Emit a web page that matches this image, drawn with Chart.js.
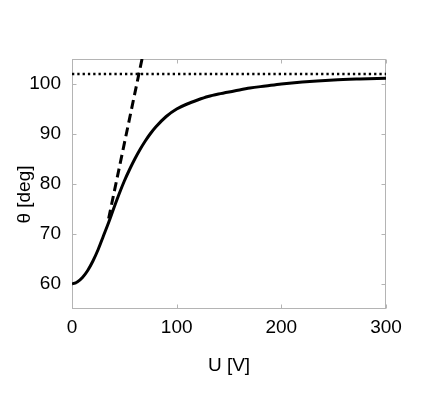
<!DOCTYPE html>
<html>
<head>
<meta charset="utf-8">
<script src="https://cdn.jsdelivr.net/npm/chart.js@4/dist/chart.umd.min.js"></script>
<style>
  html, body { margin: 0; padding: 0; background: #fff; }
  #wrap { width: 436px; height: 394px; }
</style>
</head>
<body>
<div id="wrap"><canvas id="c" width="436" height="394"></canvas></div>
<script>
// Data
const voltage = [0, 5, 10, 15, 20, 25, 30, 35, 40, 45, 50, 55, 60, 65, 70, 75, 80, 90, 100, 110, 120, 130, 140, 155, 170, 185, 200, 220, 250, 275, 300];
const theta   = [60, 60.4, 61.3, 62.7, 64.6, 66.9, 69.6, 72.3, 75.2, 78.0, 80.6, 82.9, 85.0, 86.9, 88.6, 90.1, 91.4, 93.5, 95.0, 96.0, 96.8, 97.5, 98.0, 98.6, 99.2, 99.6, 100.0, 100.4, 100.8, 101.0, 101.15];
const tangentU = [35, 70];
const tangentTheta = [73.1, 108.1];
const saturationU = [0, 300];
const saturationTheta = [102.0, 102.0];
const xTicks = [0, 100, 200, 300];
const yTicks = [60, 70, 80, 90, 100];
const xTitle = 'U [V]';
const yTitle = 'θ [deg]';

const toXY = (xs, ys) => xs.map((x, i) => ({ x: x, y: ys[i] }));

const frame = {
  id: 'frame',
  beforeDatasetsDraw(chart) {
    const { ctx, chartArea: a, scales } = chart;
    ctx.save();
    ctx.strokeStyle = '#b4b4b4';
    ctx.lineWidth = 1;
    const L = Math.round(a.left) + 0.5, R = Math.round(a.right) - 0.5;
    const T = Math.round(a.top) + 0.5, B = Math.round(a.bottom) - 0.5;
    ctx.strokeRect(L, T, R - L, B - T);
    const len = 4;
    ctx.beginPath();
    scales.x.ticks.forEach((t, i) => {
      const px = Math.round(scales.x.getPixelForTick(i)) + 0.5;
      ctx.moveTo(px, B); ctx.lineTo(px, B - len);
      ctx.moveTo(px, T); ctx.lineTo(px, T + len);
    });
    scales.y.ticks.forEach((t, i) => {
      const py = Math.round(scales.y.getPixelForTick(i)) + 0.5;
      ctx.moveTo(L, py); ctx.lineTo(L + len, py);
      ctx.moveTo(R, py); ctx.lineTo(R - len, py);
    });
    ctx.stroke();
    ctx.restore();
  }
};

const FONT = 'Liberation Sans, Arial, Helvetica, sans-serif';

new Chart(document.getElementById('c'), {
  type: 'line',
  data: {
    datasets: [
      {
        data: toXY(voltage, theta),
        borderColor: '#000',
        borderWidth: 3,
        pointRadius: 0,
        cubicInterpolationMode: 'monotone',
        fill: false
      },
      {
        data: toXY(tangentU, tangentTheta),
        borderColor: '#000',
        borderWidth: 3,
        borderDash: [9, 5],
        pointRadius: 0,
        clip: 0,
        fill: false
      },
      {
        data: toXY(saturationU, saturationTheta),
        borderColor: '#000',
        borderWidth: 2.5,
        borderDash: [2.3, 3],
        pointRadius: 0,
        clip: 0,
        fill: false
      }
    ]
  },
  options: {
    responsive: false,
    animation: false,
    devicePixelRatio: 1,
    layout: { padding: { top: 59, right: 50, left: 0, bottom: 0 } },
    plugins: { legend: { display: false }, tooltip: { enabled: false } },
    scales: {
      x: {
        type: 'linear',
        min: 0, max: 300,
        grid: { display: false },
        border: { display: false },
        afterBuildTicks: s => { s.ticks = xTicks.map(v => ({ value: v })); },
        afterFit: s => { s.height = 85; },
        ticks: { color: '#000', font: { family: FONT, size: 19 }, padding: -1, maxRotation: 0 },
        title: { display: true, text: xTitle, color: '#000', font: { family: FONT, size: 19 }, padding: { top: 0, bottom: 17 } }
      },
      y: {
        type: 'linear',
        min: 55, max: 105,
        grid: { display: false },
        border: { display: false },
        afterBuildTicks: s => { s.ticks = yTicks.map(v => ({ value: v })); },
        afterFit: s => { s.width = 72; },
        ticks: { color: '#000', font: { family: FONT, size: 19 }, padding: 3 },
        title: { display: true, text: yTitle + '    ', color: '#000', font: { family: FONT, size: 19 }, padding: { top: 13, bottom: 0 } }
      }
    }
  },
  plugins: [frame]
});
</script>
</body>
</html>
